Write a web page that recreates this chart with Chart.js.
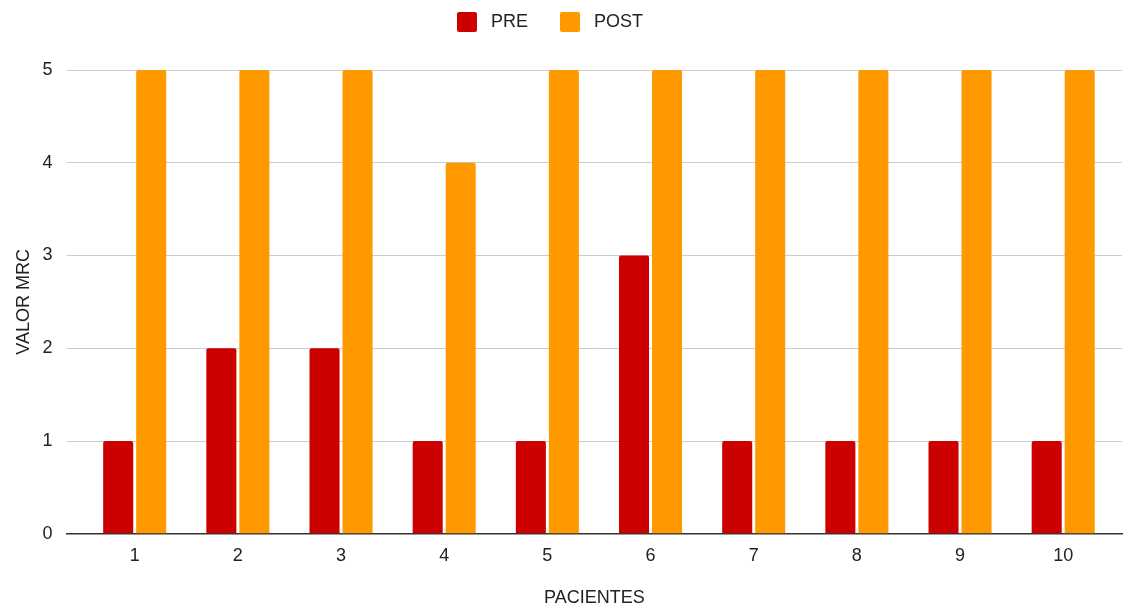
<!DOCTYPE html>
<html>
<head>
<meta charset="utf-8">
<script src="https://cdn.jsdelivr.net/npm/chart.js@4"></script>
<style>
  html, body { margin: 0; padding: 0; background: #fff; }
  #wrap { width: 1123px; height: 603px; position: relative; }
</style>
</head>
<body>
<div id="wrap"><canvas id="chart"></canvas></div>
<script>
// pacientes 1..10
const pacientes = [1, 2, 3, 4, 5, 6, 7, 8, 9, 10];
const pre = [1, 2, 2, 1, 1, 3, 1, 1, 1, 1];
const post = [5, 5, 5, 4, 5, 5, 5, 5, 5, 5];
const yTicks = [0, 1, 2, 3, 4, 5];

const font = "'Liberation Sans', Arial, sans-serif";

const toPoints = vals => vals.map((v, i) => ({ x: pacientes[i], y: v }));

// a bit more room under the legend
const legendGap = {
  id: "legendGap",
  beforeInit(chart) {
    const fit = chart.legend.fit;
    chart.legend.fit = function () {
      fit.bind(chart.legend)();
      this.height += 28;
    };
  }
};

const ctx = document.getElementById("chart").getContext("2d");
new Chart(ctx, {
  type: "bar",
  data: {
    datasets: [
      {
        label: "PRE",
        data: toPoints(pre),
        backgroundColor: "#cc0000",
        borderRadius: 2,
        borderSkipped: "bottom",
        barPercentage: 0.91,
        categoryPercentage: 0.64
      },
      {
        label: "POST",
        data: toPoints(post),
        backgroundColor: "#ff9900",
        borderRadius: 2,
        borderSkipped: "bottom",
        barPercentage: 0.91,
        categoryPercentage: 0.64
      }
    ]
  },
  plugins: [legendGap],
  options: {
    responsive: true,
    maintainAspectRatio: false,
    animation: false,
    layout: { padding: { left: 13, right: 1, top: 0, bottom: 0 } },
    plugins: {
      legend: {
        position: "top",
        labels: {
          font: { family: font, size: 18 },
          color: "#222",
          boxWidth: 20,
          boxHeight: 20,
          padding: 12,
          useBorderRadius: true,
          borderRadius: 2,
          generateLabels: chart => {
            const items = Chart.defaults.plugins.legend.labels.generateLabels(chart);
            items.forEach((it, i) => {
              it.text = " " + it.text + (i === items.length - 1 ? "       " : "    ");
            });
            return items;
          }
        }
      },
      tooltip: { enabled: false }
    },
    scales: {
      x: {
        type: "linear",
        offset: false,
        min: 0.34,
        max: 10.57,
        afterBuildTicks: axis => {
          axis.ticks = pacientes.map(v => ({ value: v }));
        },
        ticks: { font: { family: font, size: 18 }, color: "#222", padding: 3 },
        grid: { display: false },
        border: { display: true, color: "#333", width: 1.5 },
        title: {
          display: true,
          text: "PACIENTES",
          font: { family: font, size: 18 },
          color: "#222",
          padding: { top: 18, bottom: -6 }
        }
      },
      y: {
        min: 0,
        max: 5,
        afterBuildTicks: axis => {
          axis.ticks = yTicks.map(v => ({ value: v }));
        },
        afterFit: axis => {
          axis.width -= 16;
        },
        ticks: { font: { family: font, size: 18 }, color: "#222", padding: 14 },
        grid: {
          drawTicks: false,
          color: c => (c.tick && c.tick.value === 0 ? "rgba(0,0,0,0)" : "#cccccc")
        },
        border: { display: false },
        title: {
          display: true,
          text: "VALOR MRC",
          font: { family: font, size: 18 },
          color: "#222",
          padding: { top: 0, bottom: 10 }
        }
      }
    }
  }
});
</script>
</body>
</html>
